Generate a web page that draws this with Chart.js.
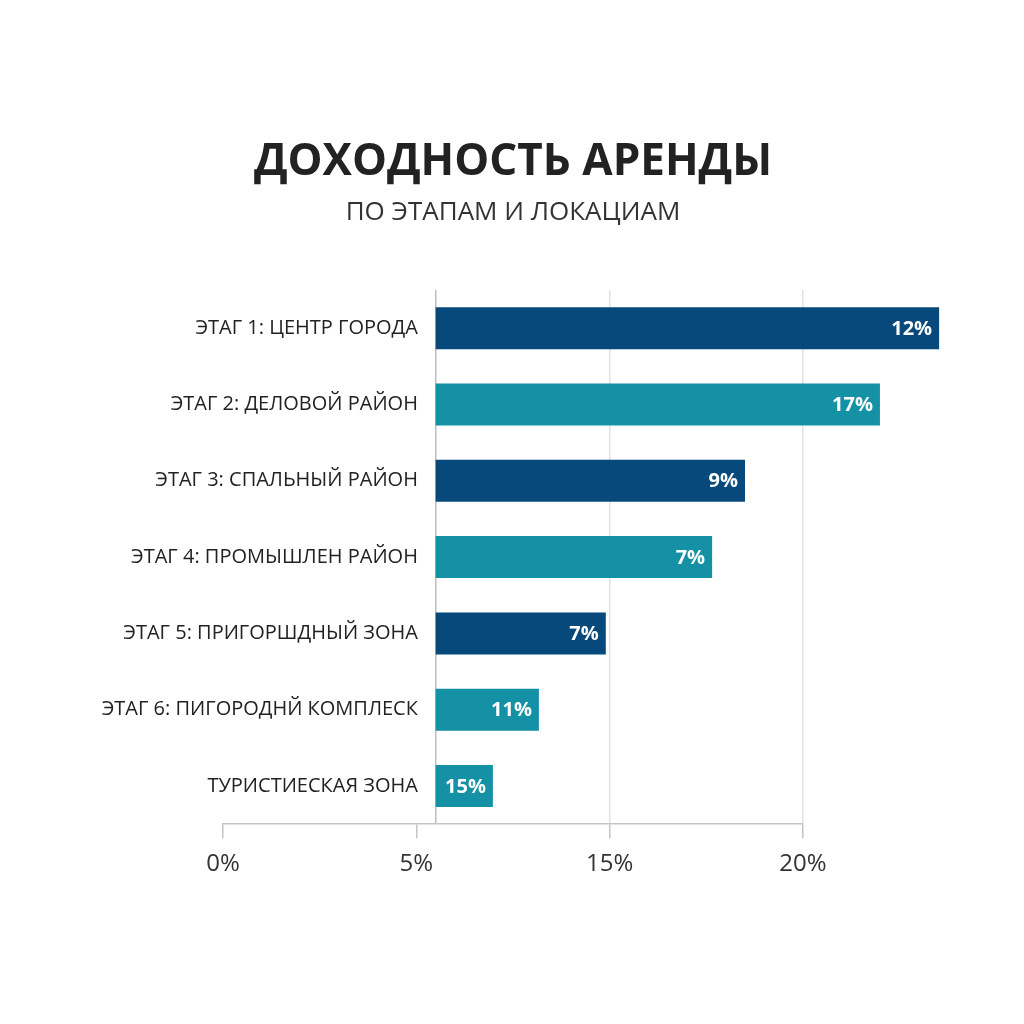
<!DOCTYPE html>
<html>
<head>
<meta charset="utf-8">
<script src="https://cdn.jsdelivr.net/npm/chart.js@4/dist/chart.umd.min.js"></script>
<style>
  html, body { margin: 0; padding: 0; background: #ffffff; }
  #wrap { width: 1024px; height: 1024px; }
</style>
</head>
<body>
<div id="wrap"><canvas id="chart" width="1024" height="1024"></canvas></div>
<script>
"use strict";

// категории и подписи — как на картинке (включая опечатки оригинала)
const CATEGORIES = [
  "ЭТАГ 1: ЦЕНТР ГОРОДА",
  "ЭТАГ 2: ДЕЛОВОЙ РАЙОН",
  "ЭТАГ 3: СПАЛЬНЫЙ РАЙОН",
  "ЭТАГ 4: ПРОМЫШЛЕН РАЙОН",
  "ЭТАГ 5: ПРИГОРШДНЫЙ ЗОНА",
  "ЭТАГ 6: ПИГОРОДНЙ КОМПЛЕСК",
  "ТУРИСТИЕСКАЯ ЗОНА",
];
const VALUE_LABELS = ["12%", "17%", "9%", "7%", "7%", "11%", "15%"];
// ось: равные шаги, подписи 0% / 5% / 15% / 20%
const TICK_POS = [0, 5, 10, 15];
const TICK_LABELS = ["0%", "5%", "15%", "20%"];
// бары стартуют от общей базы и заканчиваются здесь (в единицах оси)
const BAR_BASE = 5.5;
const BAR_END = [18.52, 16.99, 13.5, 12.65, 9.9, 8.17, 6.98];
const COLORS = ["#07497b", "#1591a5", "#07497b", "#1591a5", "#07497b", "#1591a5", "#1591a5"];

const FONT = "'Open Sans', 'Noto Sans', sans-serif";
const LABEL_EDGE = 5.04;   // правый край подписей категорий, в единицах оси x

// подписи значений у правого края бара
const barLabels = {
  id: "barLabels",
  afterDatasetsDraw(chart) {
    const { ctx } = chart;
    const meta = chart.getDatasetMeta(0);
    ctx.save();
    ctx.font = `bold 20px ${FONT}`;
    ctx.fillStyle = "#ffffff";
    ctx.textAlign = "right";
    ctx.textBaseline = "middle";
    meta.data.forEach((el, i) => ctx.fillText(VALUE_LABELS[i], el.x - 7, el.y + 1));
    ctx.restore();
  },
};

const xTicks = [...TICK_POS, BAR_BASE].sort((a, b) => a - b);

new Chart(document.getElementById("chart"), {
  type: "bar",
  data: {
    labels: CATEGORIES,
    datasets: [{
      data: BAR_END.map((v) => [BAR_BASE, v]),
      backgroundColor: COLORS,
      borderWidth: 0,
      borderSkipped: false,
      barPercentage: 0.55,
      categoryPercentage: 1,
      clip: false,
    }],
  },
  plugins: [barLabels],
  options: {
    indexAxis: "y",
    responsive: false,
    animation: false,
    layout: { padding: { top: 136, left: 223, right: 221, bottom: 133 } },
    plugins: {
      legend: { display: false },
      tooltip: { enabled: false },
      title: {
        display: true, text: "ДОХОДНОСТЬ АРЕНДЫ", color: "#222222",
        font: { family: FONT, size: 44, weight: "bold" }, padding: { top: 0, bottom: 8 },
      },
      subtitle: {
        display: true, text: "ПО ЭТАПАМ И ЛОКАЦИАМ", color: "#333333",
        font: { family: FONT, size: 26 }, padding: { top: 0, bottom: 62 },
      },
    },
    scales: {
      x: {
        type: "linear", min: 0, max: 15,
        afterBuildTicks: (s) => { s.ticks = xTicks.map((v) => ({ value: v })); },
        ticks: {
          color: "#333333", padding: 12, font: { family: FONT, size: 24 },
          callback: (v) => { const i = TICK_POS.indexOf(v); return i < 0 ? "" : TICK_LABELS[i]; },
        },
        grid: {
          color: (c) => {
            if (!c.tick) return "rgba(0,0,0,0)";
            if (c.tick.value === BAR_BASE) return "#bdbdbd";
            return c.tick.value >= 10 ? "#e2e2e2" : "rgba(0,0,0,0)";
          },
          tickColor: (c) => (c.tick && c.tick.value === BAR_BASE ? "rgba(0,0,0,0)" : "#c4c4c4"),
          tickLength: 14, lineWidth: 1.5,
        },
        border: { color: "#c4c4c4", width: 1.5 },
      },
      y: {
        position: { x: LABEL_EDGE },
        ticks: { color: "#222222", font: { family: FONT, size: 20 } },
        grid: { display: false },
        border: { display: false },
      },
    },
  },
});
</script>
</body>
</html>
